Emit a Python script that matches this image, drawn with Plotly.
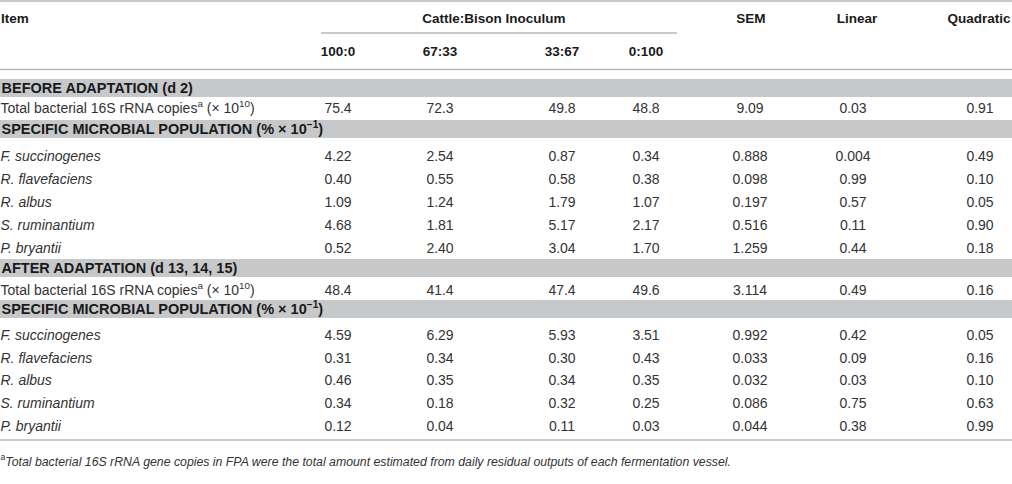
import plotly.graph_objects as go

# table content
ratios = ["100:0", "67:33", "33:67", "0:100"]
stat_cols = ["SEM", "Linear", "Quadratic"]
species = ["F. succinogenes", "R. flavefaciens", "R. albus", "S. ruminantium", "P. bryantii"]

total_label = "Total bacterial 16S rRNA copies<sup>a</sup> (× 10<sup>10</sup>)"
sections = ["BEFORE ADAPTATION (d 2)", "AFTER ADAPTATION (d 13, 14, 15)"]
pop_label = "SPECIFIC MICROBIAL POPULATION (% × 10<sup>−1</sup>)"

before_total = ["75.4", "72.3", "49.8", "48.8", "9.09", "0.03", "0.91"]
before_species = [
    ["4.22", "2.54", "0.87", "0.34", "0.888", "0.004", "0.49"],
    ["0.40", "0.55", "0.58", "0.38", "0.098", "0.99", "0.10"],
    ["1.09", "1.24", "1.79", "1.07", "0.197", "0.57", "0.05"],
    ["4.68", "1.81", "5.17", "2.17", "0.516", "0.11", "0.90"],
    ["0.52", "2.40", "3.04", "1.70", "1.259", "0.44", "0.18"],
]
after_total = ["48.4", "41.4", "47.4", "49.6", "3.114", "0.49", "0.16"]
after_species = [
    ["4.59", "6.29", "5.93", "3.51", "0.992", "0.42", "0.05"],
    ["0.31", "0.34", "0.30", "0.43", "0.033", "0.09", "0.16"],
    ["0.46", "0.35", "0.34", "0.35", "0.032", "0.03", "0.10"],
    ["0.34", "0.18", "0.32", "0.25", "0.086", "0.75", "0.63"],
    ["0.12", "0.04", "0.11", "0.03", "0.044", "0.38", "0.99"],
]
footnote = ("<sup>a</sup><i>Total bacterial 16S rRNA gene copies in FPA were the total amount "
            "estimated from daily residual outputs of each fermentation vessel.</i>")

W, H = 1012, 484
FONT = "Liberation Sans, Arial, sans-serif"
TXT = "#333333"
HEAD = "#1a1a1a"
BAND = "#c7c8ca"
RULE = "#b8b8b8"
DY = 1.5  # text boxes sit slightly high of their anchor

col_x = [338, 440, 562, 646, 750, 853, 980]

# row layout (pixel positions from top)
band_rows = [(88, 79, 97), (129, 120, 138), (268, 259, 277), (309, 300, 318)]
before_total_y = 108
before_sp_y = [156, 179, 202, 225, 248]
after_total_y = 290
after_sp_y = [335, 358, 380, 403, 426]

fig = go.Figure()


def add_text(xs, ys, texts, pos="middle center", size=13.5, color=TXT):
    fig.add_trace(go.Scatter(
        x=xs, y=[y + DY for y in ys], text=texts, mode="text", textposition=pos,
        textfont=dict(family=FONT, size=size, color=color),
        hoverinfo="skip", showlegend=False))


# header
add_text([1], [18], ["<b>Item</b>"], pos="middle right", color=HEAD)
add_text([494], [18], ["<b>Cattle:Bison Inoculum</b>"], color=HEAD)
add_text([751, 857, 979], [18] * 3, ["<b>%s</b>" % s for s in stat_cols], color=HEAD)
add_text(col_x[:4], [51] * 4, ["<b>%s</b>" % r for r in ratios], color=HEAD)

# section bands
for _, y0, y1 in band_rows:
    fig.add_shape(type="rect", x0=0, x1=W, y0=y0, y1=y1, fillcolor=BAND,
                  line_width=0, layer="below")

# rules
fig.add_shape(type="line", x0=0, x1=W, y0=1, y1=1, line=dict(color=RULE, width=1.3))
fig.add_shape(type="line", x0=321, x1=677, y0=33, y1=33, line=dict(color=RULE, width=1.3))
fig.add_shape(type="line", x0=0, x1=W, y0=69.5, y1=69.5, line=dict(color=RULE, width=1.3))
fig.add_shape(type="line", x0=0, x1=W, y0=440, y1=440, line=dict(color=RULE, width=1.3))

# band labels
band_labels = [sections[0], pop_label, sections[1], pop_label]
add_text([1.5] * 4, [b[0] for b in band_rows], ["<b>%s</b>" % t for t in band_labels],
         pos="middle right", size=14.5, color=HEAD)

# row labels
add_text([0.5, 0.5], [before_total_y, after_total_y], [total_label] * 2, pos="middle right", size=14)
add_text([0.5] * 5, before_sp_y, ["<i>%s</i>" % s for s in species], pos="middle right", size=14)
add_text([0.5] * 5, after_sp_y, ["<i>%s</i>" % s for s in species], pos="middle right", size=14)

# values
for c, x in enumerate(col_x):
    ys = [before_total_y] + before_sp_y + [after_total_y] + after_sp_y
    vals = [before_total[c]] + [r[c] for r in before_species] + \
           [after_total[c]] + [r[c] for r in after_species]
    add_text([x] * len(ys), ys, vals, size=14)

# footnote
add_text([0.5], [461], [footnote], pos="middle right", size=12.3)

fig.update_layout(
    width=W, height=H, margin=dict(l=0, r=0, t=0, b=0),
    paper_bgcolor="white", plot_bgcolor="white",
    xaxis=dict(range=[0, W], visible=False, fixedrange=True),
    yaxis=dict(range=[H, 0], visible=False, fixedrange=True),
)

fig.write_html("out.html", config={"displayModeBar": False},
               post_script="document.body.style.margin='0px';")
